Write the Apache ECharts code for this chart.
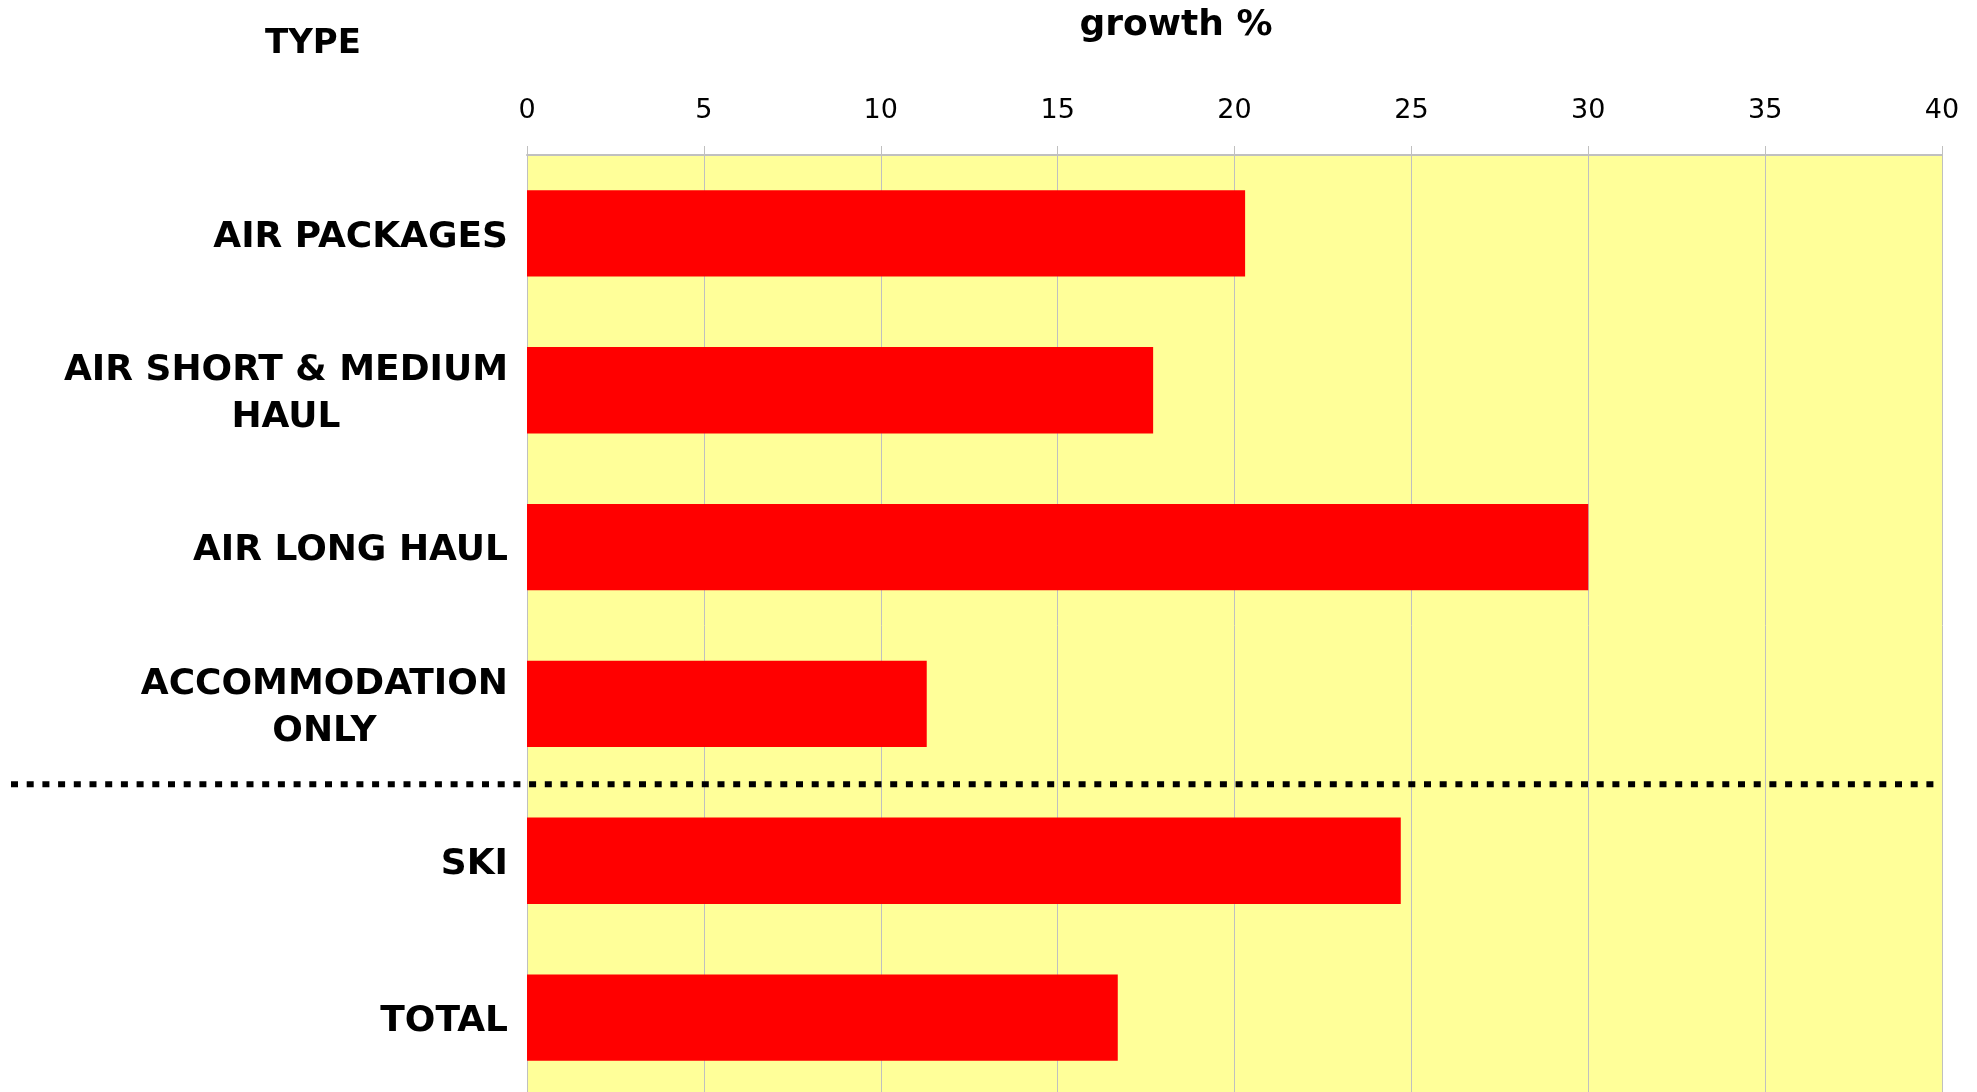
<!DOCTYPE html>
<html>
<head>
<meta charset="utf-8">
<title>growth % by type</title>
<script src="https://cdn.jsdelivr.net/npm/echarts@6/dist/echarts.min.js"></script>
<style>
  html, body { margin: 0; padding: 0; background: #ffffff; overflow: hidden; }
  /* the plot runs a little past the bottom edge of the window */
  #chart { width: 1977px; height: 1096px; }
</style>
</head>
<body>
<div id="chart"></div>
<script>
// categories, top to bottom
const categories = [
  'AIR PACKAGES',
  'AIR SHORT & MEDIUM\nHAUL',
  'AIR LONG HAUL',
  'ACCOMMODATION\nONLY',
  'SKI',
  'TOTAL'
]
// growth %
const growth = [20.3, 17.7, 30.0, 11.3, 24.7, 16.7]
const xTicks = [0, 5, 10, 15, 20, 25, 30, 35, 40]

// the dotted separator sits between these two rows
const dividerAbove = 'ACCOMMODATION\nONLY'
const dividerBelow = 'SKI'

const chart = echarts.init(document.getElementById('chart'))

const labelFont = 'DejaVu Sans, Verdana, sans-serif'

function buildOption() {
  return {
    animation: false,
    backgroundColor: '#ffffff',
    grid: { left: 527, right: 35, top: 155, bottom: 0, containLabel: false },
    xAxis: {
      type: 'value',
      position: 'top',
      min: xTicks[0],
      max: xTicks[xTicks.length - 1],
      interval: 5,
      axisLine: { show: true, lineStyle: { color: '#c0c0c0', width: 2 } },
      axisTick: { show: true, length: 9, lineStyle: { color: '#c0c0c0', width: 1 } },
      axisLabel: {
        margin: 31,
        fontFamily: labelFont,
        fontSize: 27,
        color: '#000'
      },
      splitLine: { show: true, lineStyle: { color: '#c0c0c0', width: 1 } }
    },
    yAxis: {
      type: 'category',
      inverse: true,
      data: categories,
      axisLine: { show: true, lineStyle: { color: '#c0c0c0', width: 1 } },
      axisTick: { show: false },
      splitArea: { show: false },
      axisLabel: {
        margin: 19,
        align: 'right',
        padding: [8, 0, 0, 0],
        formatter: (v) => v.split('\n').map((s) => '{c|' + s + '}').join('\n'),
        rich: {
          c: {
            align: 'center',
            fontFamily: labelFont,
            fontWeight: 'bold',
            fontSize: 36,
            lineHeight: 47,
            color: '#000'
          }
        }
      }
    },
    series: [{
      type: 'bar',
      data: growth,
      barWidth: '55%',
      itemStyle: { color: '#ff0000' },
      z: 3
    }]
  }
}

chart.setOption(buildOption())

function addDecorations() {
  const grid = chart.getModel().getComponent('grid').coordinateSystem.getRect()
  const yA = chart.convertToPixel({ yAxisIndex: 0 }, dividerAbove)
  const yB = chart.convertToPixel({ yAxisIndex: 0 }, dividerBelow)
  const yDiv = (yA + yB) / 2 + 2
  chart.setOption({
    graphic: [
      {
        type: 'rect',
        z: -10,
        silent: true,
        shape: { x: grid.x, y: grid.y, width: grid.width, height: grid.height },
        style: { fill: '#ffff99' }
      },
      {
        type: 'line',
        z: 100,
        silent: true,
        shape: { x1: 11, y1: yDiv, x2: grid.x + grid.width, y2: yDiv },
        style: { stroke: '#000', lineWidth: 6, lineDash: [7, 8.7], lineCap: 'butt' }
      },
      {
        type: 'text',
        silent: true,
        x: 313,
        y: 44,
        style: {
          text: 'TYPE',
          fontFamily: labelFont,
          fontWeight: 'bold',
          fontSize: 34,
          fill: '#000',
          align: 'center',
          verticalAlign: 'middle'
        }
      },
      {
        type: 'text',
        silent: true,
        x: 1176,
        y: 26,
        style: {
          text: 'growth %',
          fontFamily: labelFont,
          fontWeight: 'bold',
          fontSize: 36,
          fill: '#000',
          align: 'center',
          verticalAlign: 'middle'
        }
      }
    ]
  })
}

addDecorations()
window.addEventListener('resize', () => chart.resize())
</script>
</body>
</html>
